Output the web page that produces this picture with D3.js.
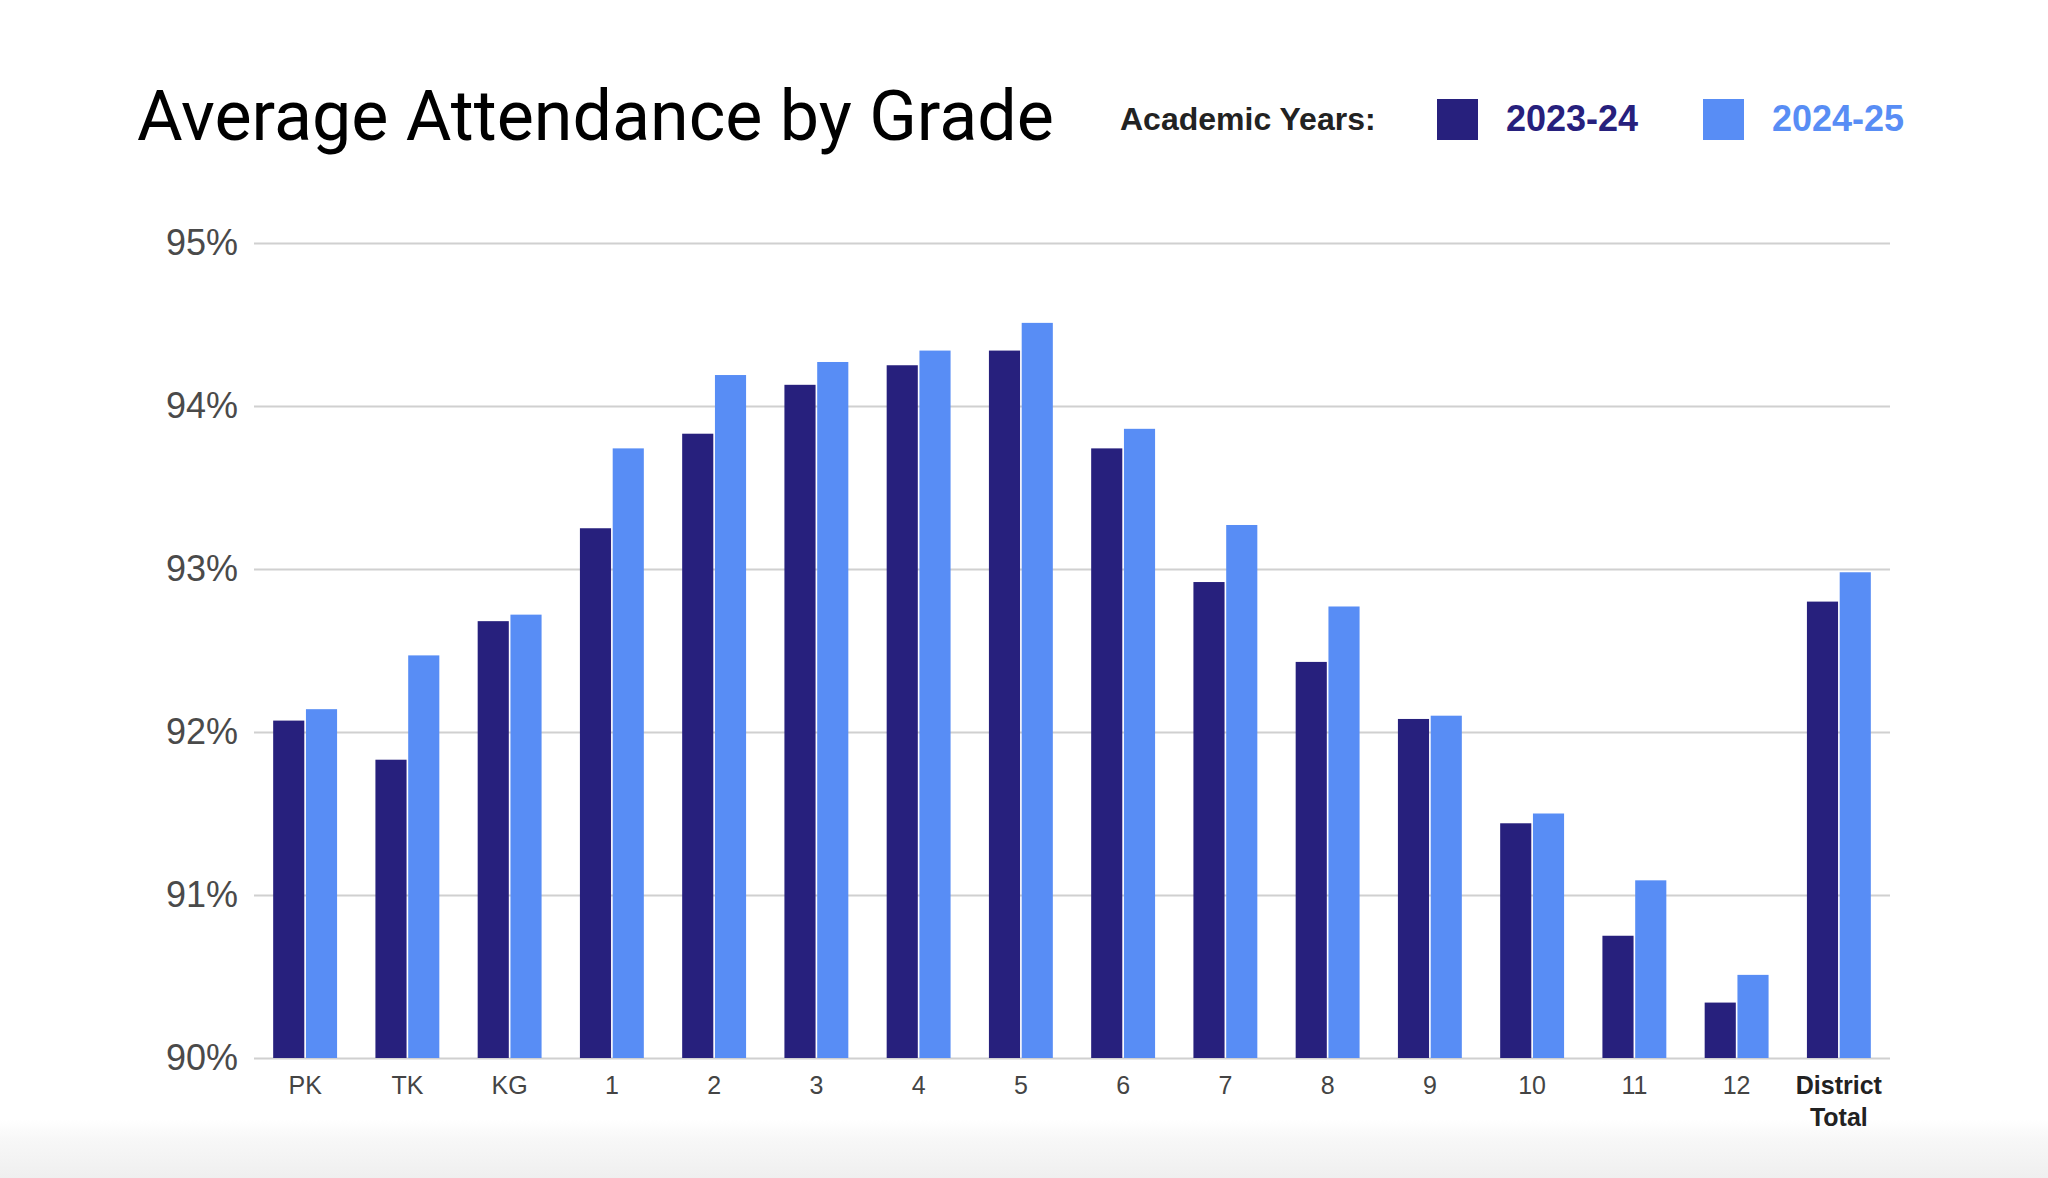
<!DOCTYPE html>
<html>
<head>
<meta charset="utf-8">
<script src="https://cdn.jsdelivr.net/npm/d3@7"></script>
<style>
  html, body { margin: 0; padding: 0; background: #fff; }
  svg { display: block; }
</style>
</head>
<body>
<div id="attendance_chart"></div>
<script>
const grades = ['PK', 'TK', 'KG', '1', '2', '3', '4', '5', '6', '7', '8', '9', '10', '11', '12', 'District Total'];
const years = ['2023-24', '2024-25'];
const attendance2324 = [92.07, 91.83, 92.68, 93.25, 93.83, 94.13, 94.25, 94.34, 93.74, 92.92, 92.43, 92.08, 91.44, 90.75, 90.34, 92.80];
const attendance2425 = [92.14, 92.47, 92.72, 93.74, 94.19, 94.27, 94.34, 94.51, 93.86, 93.27, 92.77, 92.10, 91.50, 91.09, 90.51, 92.98];
const yTicks = [90, 91, 92, 93, 94, 95];

const colors = { '2023-24': '#27207d', '2024-25': '#588df5' };

const W = 2048, H = 1178;
const margin = { top: 243, right: 158, bottom: 120, left: 254 },
  width = W - margin.left - margin.right,
  height = 1058 - margin.top;

const rows = grades.map((g, i) => ({
  grade: g,
  values: [
    { year: years[0], v: attendance2324[i] },
    { year: years[1], v: attendance2425[i] },
  ]
}));

const svg = d3.select('#attendance_chart')
  .append('svg')
  .attr('width', W)
  .attr('height', H);

// faint grey fade at the bottom of the screenshot
const defs = svg.append('defs');
const fade = defs.append('linearGradient')
  .attr('id', 'bottom_fade')
  .attr('x1', '0%').attr('x2', '0%')
  .attr('y1', '0%').attr('y2', '100%');
fade.append('stop').attr('offset', '0%').attr('stop-color', '#ffffff');
fade.append('stop').attr('offset', '30%').attr('stop-color', '#f8f8f8');
fade.append('stop').attr('offset', '100%').attr('stop-color', '#efefef');
svg.append('rect')
  .attr('x', 0).attr('y', 1120)
  .attr('width', W).attr('height', H - 1120)
  .attr('fill', 'url(#bottom_fade)');

// title
svg.append('text')
  .attr('x', 137)
  .attr('y', 140)
  .attr('font-family', 'Roboto, "Liberation Sans", sans-serif')
  .attr('font-size', 70)
  .attr('fill', '#000')
  .text('Average Attendance by Grade');

// legend
const legend = svg.append('g').attr('font-family', '"Liberation Sans", Arial, sans-serif');
legend.append('text')
  .attr('x', 1120).attr('y', 130)
  .attr('font-size', 32)
  .attr('font-weight', 700)
  .attr('fill', '#222')
  .text('Academic Years:');

const legendX = [1437, 1703];
years.forEach((yr, i) => {
  legend.append('rect')
    .attr('x', legendX[i]).attr('y', 99)
    .attr('width', 41).attr('height', 41)
    .attr('fill', colors[yr]);
  legend.append('text')
    .attr('x', legendX[i] + 69).attr('y', 131)
    .attr('font-size', 36)
    .attr('font-weight', 700)
    .attr('fill', colors[yr])
    .text(yr);
});

const g = svg.append('g')
  .attr('transform', 'translate(' + margin.left + ',' + margin.top + ')');

// scales
const x0 = d3.scaleBand()
  .domain(grades)
  .range([0, width])
  .paddingInner(0.375)
  .paddingOuter(0.1875);

const x1 = d3.scaleBand()
  .domain(years)
  .range([0, x0.bandwidth()])
  .paddingInner(0.05);

const y = d3.scaleLinear()
  .domain([90, 95])
  .range([height, 0]);

// gridlines + y labels
const yAxis = g.append('g')
  .attr('class', 'y_axis')
  .call(
    d3.axisLeft(y)
      .tickValues(yTicks)
      .tickSize(-width)
      .tickPadding(16)
      .tickFormat(d => d + '%')
  );
yAxis.select('.domain').remove();
yAxis.selectAll('line').attr('stroke', '#d0d0d0').attr('stroke-width', 2);
yAxis.selectAll('text')
  .attr('font-family', '"Liberation Sans", Arial, sans-serif')
  .attr('font-size', 36)
  .attr('fill', '#4a4a4a');

// bars
const groups = g.selectAll('.grade')
  .data(rows)
  .join('g')
  .attr('class', 'grade')
  .attr('transform', d => 'translate(' + x0(d.grade) + ',0)');

groups.selectAll('rect')
  .data(d => d.values)
  .join('rect')
  .attr('x', d => x1(d.year))
  .attr('y', d => y(d.v))
  .attr('width', x1.bandwidth())
  .attr('height', d => height - y(d.v))
  .attr('fill', d => colors[d.year]);

// x axis labels
const xAxis = g.append('g')
  .attr('class', 'x_axis')
  .attr('transform', 'translate(0,' + height + ')')
  .call(d3.axisBottom(x0).tickSize(0).tickPadding(18));
xAxis.select('.domain').remove();
xAxis.selectAll('text')
  .attr('font-family', '"Liberation Sans", Arial, sans-serif')
  .attr('font-size', 25)
  .attr('fill', '#444')
  .attr('dy', '0.71em')
  .each(function (d) {
    if (d === 'District Total') {
      const t = d3.select(this).text(null)
        .attr('font-weight', 700)
        .attr('fill', '#222');
      t.append('tspan').attr('x', 0).attr('dy', '0.71em').text('District');
      t.append('tspan').attr('x', 0).attr('dy', '1.3em').text('Total');
    }
  });
</script>
</body>
</html>
